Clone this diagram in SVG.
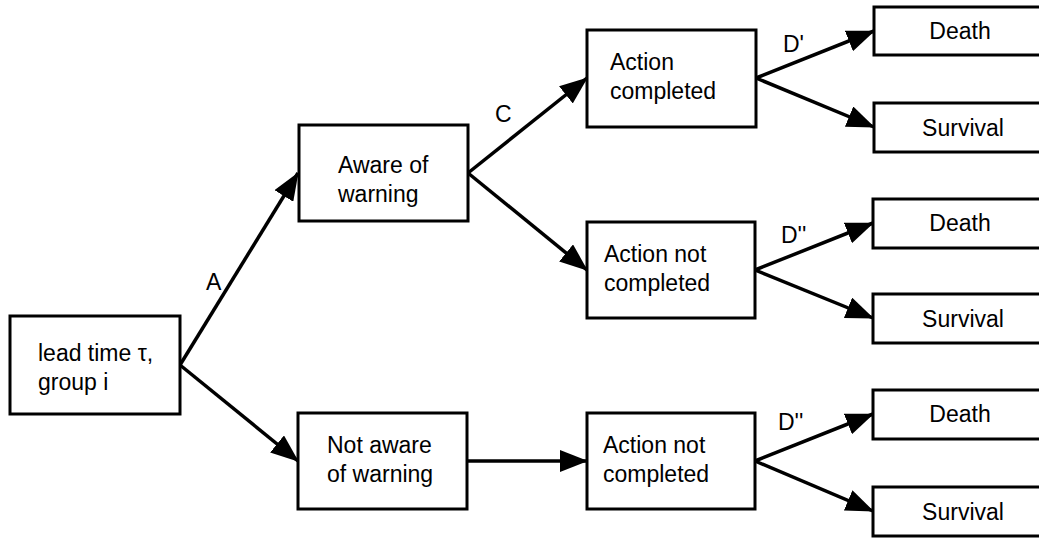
<svg xmlns="http://www.w3.org/2000/svg" width="1039" height="539" viewBox="0 0 1039 539">
<defs>
<marker id="ah" viewBox="0 0 28 22" refX="27" refY="11" markerWidth="28" markerHeight="22" markerUnits="userSpaceOnUse" orient="auto">
<path d="M0,0 L28,11 L0,22 Z" fill="#000"/>
</marker>
</defs>
<style>
.box{fill:#fff;stroke:#000;stroke-width:3}
.t{font-family:"Liberation Sans",Arial,sans-serif;font-size:23px;fill:#000}
.c{text-anchor:middle}
.e{stroke:#000;stroke-width:3.5;fill:none;marker-end:url(#ah)}
</style>
<rect width="1039" height="539" fill="#fff"/>
<g id="connectors">
<line class="e" x1="180" y1="365" x2="298" y2="173"/>
<line class="e" x1="180" y1="365" x2="298" y2="461"/>
<line class="e" x1="468" y1="173" x2="587" y2="78"/>
<line class="e" x1="468" y1="173" x2="587" y2="270"/>
<line class="e" x1="467" y1="461" x2="587" y2="461"/>
<line class="e" x1="756" y1="78" x2="874" y2="31"/>
<line class="e" x1="756" y1="78" x2="874" y2="127"/>
<line class="e" x1="755" y1="270" x2="873" y2="223"/>
<line class="e" x1="755" y1="270" x2="873" y2="318"/>
<line class="e" x1="755" y1="461" x2="873" y2="414"/>
<line class="e" x1="755" y1="461" x2="873" y2="511"/>
<text class="t" x="206" y="290">A</text>
<text class="t" x="495" y="122">C</text>
<text class="t" x="783" y="52">D'</text>
<text class="t" x="781" y="243">D''</text>
<text class="t" x="778" y="430">D''</text>
</g>
<g id="lead">
<rect class="box" x="10" y="316" width="170" height="98"/>
<text class="t" x="38" y="361">lead time τ,</text>
<text class="t" x="38" y="390">group i</text>
</g>
<g id="aware">
<rect class="box" x="299" y="125" width="169" height="96"/>
<text class="t" x="338" y="173">Aware of</text>
<text class="t" x="338" y="202">warning</text>
</g>
<g id="notaware">
<rect class="box" x="298" y="413" width="169" height="96"/>
<text class="t" x="327" y="453">Not aware</text>
<text class="t" x="327" y="482">of warning</text>
</g>
<g id="action1">
<rect class="box" x="587" y="30" width="169" height="97"/>
<text class="t" x="610" y="70">Action</text>
<text class="t" x="610" y="99">completed</text>
</g>
<g id="action2">
<rect class="box" x="587" y="222" width="168" height="96"/>
<text class="t" x="604" y="262">Action not</text>
<text class="t" x="604" y="291">completed</text>
</g>
<g id="action3">
<rect class="box" x="587" y="413" width="168" height="96"/>
<text class="t" x="603" y="453">Action not</text>
<text class="t" x="603" y="482">completed</text>
</g>
<g id="death1">
<rect class="box" x="874" y="7" width="176" height="48"/>
<text class="t c" x="960" y="39">Death</text>
</g>
<g id="survival1">
<rect class="box" x="874" y="103" width="176" height="49"/>
<text class="t c" x="963" y="136">Survival</text>
</g>
<g id="death2">
<rect class="box" x="873" y="199" width="177" height="49"/>
<text class="t c" x="960" y="231">Death</text>
</g>
<g id="survival2">
<rect class="box" x="873" y="294" width="177" height="49"/>
<text class="t c" x="963" y="327">Survival</text>
</g>
<g id="death3">
<rect class="box" x="873" y="390" width="177" height="49"/>
<text class="t c" x="960" y="422">Death</text>
</g>
<g id="survival3">
<rect class="box" x="873" y="487" width="177" height="49"/>
<text class="t c" x="963" y="520">Survival</text>
</g>
</svg>
